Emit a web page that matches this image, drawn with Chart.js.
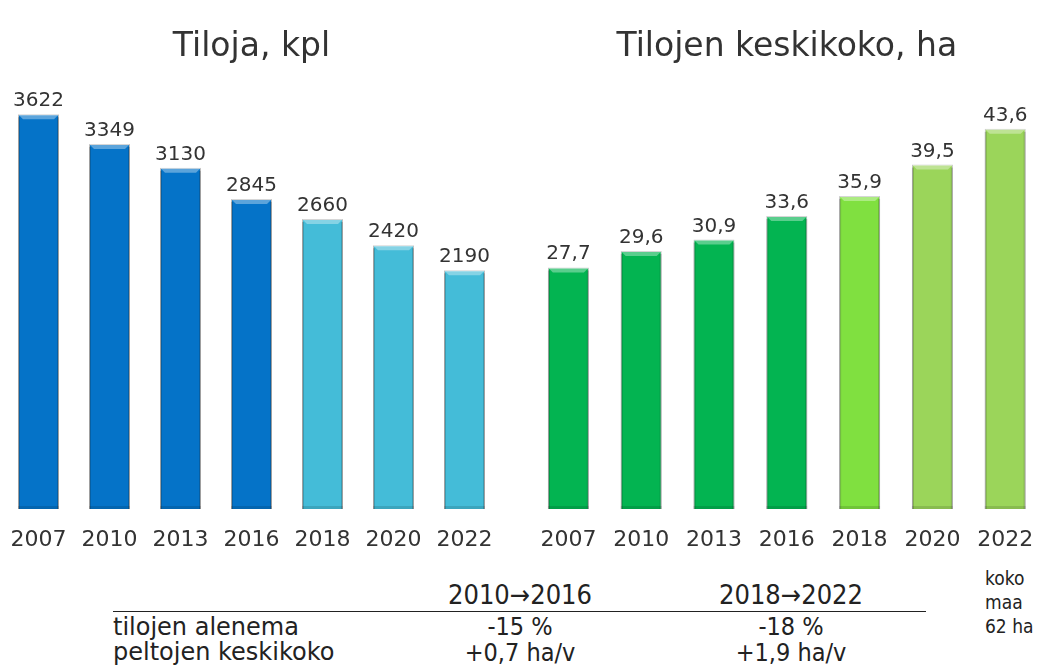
<!DOCTYPE html>
<html>
<head>
<meta charset="utf-8">
<script src="https://cdn.jsdelivr.net/npm/chart.js@4.4.0/dist/chart.umd.min.js"></script>
<style>
  body { margin: 0; background: #fff; width: 1048px; height: 670px; position: relative; overflow: hidden; font-family: "DejaVu Sans", Verdana, sans-serif; color: #222; }
  #c1 { position: absolute; left: 0; top: 0; }
  #c2 { position: absolute; left: 520px; top: 0; }
  .t { position: absolute; white-space: nowrap; }
  .lbl { font-family: "DejaVu Sans", sans-serif; font-size: 24px; left: 113px; }
  .col { font-family: "DejaVu Sans Condensed", "DejaVu Sans", sans-serif; font-size: 25px; transform: translateX(-50%); }
  .hd { font-size: 27px; }
  .note { font-family: "DejaVu Sans Condensed", "DejaVu Sans", sans-serif; font-size: 19px; left: 985px; line-height: 24px; }
  #rule { position: absolute; left: 113px; top: 611px; width: 813px; border-top: 1.5px solid #222; }
</style>
</head>
<body>
<canvas id="c1" width="510" height="560"></canvas>
<canvas id="c2" width="528" height="560"></canvas>

<div class="t col hd" style="left:520px; top:579px;">2010→2016</div>
<div class="t col hd" style="left:791px; top:579px;">2018→2022</div>
<div id="rule"></div>
<div class="t lbl" style="top:613px;">tilojen alenema</div>
<div class="t lbl" style="top:638px;">peltojen keskikoko</div>
<div class="t col" style="left:520px; top:612px;">-15 %</div>
<div class="t col" style="left:791px; top:612px;">-18 %</div>
<div class="t col" style="left:520px; top:638px;">+0,7 ha/v</div>
<div class="t col" style="left:791px; top:638px;">+1,9 ha/v</div>
<div class="t note" style="top:566px;">koko<br>maa<br>62 ha</div>

<script>
var years = ['2007', '2010', '2013', '2016', '2018', '2020', '2022'];
var farms = [3622, 3349, 3130, 2845, 2660, 2420, 2190];
var avgSize = [27.7, 29.6, 30.9, 33.6, 35.9, 39.5, 43.6];
var farmColors = ['#0573c8', '#0573c8', '#0573c8', '#0573c8', '#44bcd8', '#44bcd8', '#44bcd8'];
var sizeColors = ['#03b451', '#03b451', '#03b451', '#03b451', '#80e040', '#9bd55a', '#9bd55a'];

// value labels above bars + a simple bevel on the bar top
var barDecor = {
    id: 'barDecor',
    afterDatasetsDraw: function(chart, args, opts) {
        var ctx = chart.ctx;
        var meta = chart.getDatasetMeta(0);
        var ds = chart.data.datasets[0];
        meta.data.forEach(function(bar, i) {
            var half = bar.width / 2;
            var l = bar.x - half, r = bar.x + half, top = bar.y, bot = bar.base;
            ctx.save();
            // top highlight
            ctx.fillStyle = 'rgba(255,255,255,0.35)';
            ctx.beginPath();
            ctx.moveTo(l, top);
            ctx.lineTo(r, top);
            ctx.lineTo(r - 5, top + 5);
            ctx.lineTo(l + 5, top + 5);
            ctx.closePath();
            ctx.fill();
            // side shading
            ctx.fillStyle = 'rgba(0,0,0,0.18)';
            ctx.fillRect(l, top + 3, 2, bot - top - 3);
            ctx.fillRect(r - 2, top + 3, 2, bot - top - 3);
            ctx.fillStyle = 'rgba(0,0,0,0.12)';
            ctx.fillRect(l, bot - 3, bar.width, 3);
            // value text
            ctx.fillStyle = '#333';
            ctx.font = '20px "DejaVu Sans"';
            ctx.textAlign = 'center';
            ctx.textBaseline = 'alphabetic';
            ctx.fillText(opts.fmt(ds.data[i]), bar.x, top - 8);
            ctx.restore();
        });
    }
};

function makeConfig(title, values, colors, ymax, padL, padR, pct, fmt) {
    return {
        type: 'bar',
        data: {
            labels: years,
            datasets: [{
                data: values,
                backgroundColor: colors,
                borderColor: 'rgba(0,0,0,0.25)',
                borderWidth: 1,
                barPercentage: pct,
                categoryPercentage: 1
            }]
        },
        options: {
            responsive: false,
            animation: false,
            layout: { padding: { left: padL, right: padR, top: 0, bottom: 0 } },
            plugins: {
                legend: { display: false },
                tooltip: { enabled: false },
                title: {
                    display: true,
                    text: title,
                    color: '#333',
                    font: { family: 'DejaVu Sans', size: 33, weight: 'normal' },
                    padding: { top: 28, bottom: 5.4 }
                },
                barDecor: { fmt: fmt }
            },
            scales: {
                x: {
                    grid: { display: false },
                    border: { display: false },
                    ticks: { color: '#333', padding: 10, font: { family: 'DejaVu Sans', size: 22 } },
                    afterFit: function(scale) { scale.height = 51; }
                },
                y: {
                    display: false,
                    min: 0,
                    max: ymax
                }
            }
        },
        plugins: [barDecor]
    };
}

new Chart(document.getElementById('c1'),
    makeConfig('Tiloja, kpl', farms, farmColors, 4000, 3, 10, 0.577,
        function(v) { return String(v); }));

new Chart(document.getElementById('c2'),
    makeConfig('Tilojen keskikoko, ha', avgSize, sizeColors, 50, 12, 6.4, 0.563,
        function(v) { return v.toFixed(1).replace('.', ','); }));
</script>
</body>
</html>
